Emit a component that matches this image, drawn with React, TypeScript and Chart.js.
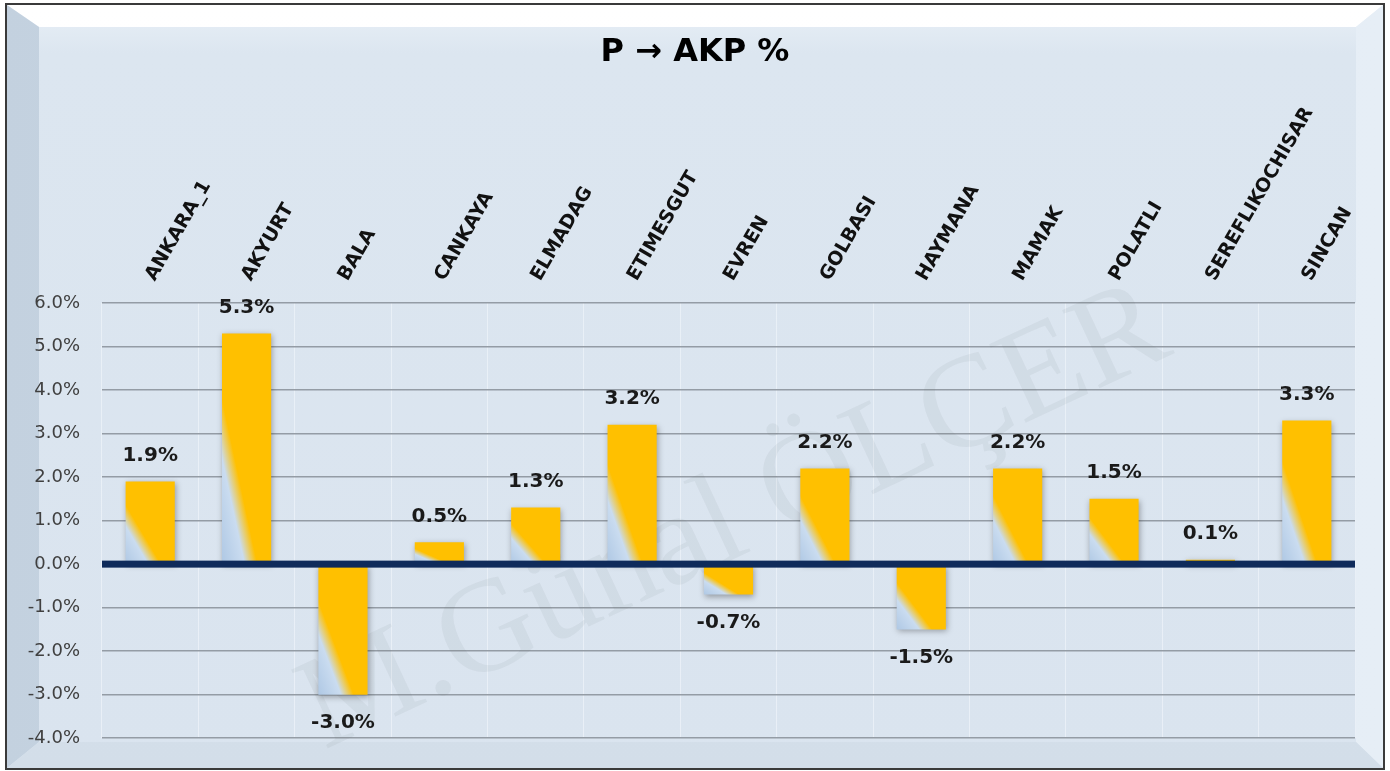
import React, { useEffect, useRef } from 'react';
import { Chart, registerables } from 'chart.js';

Chart.register(...registerables);

const TITLE = 'P → AKP %';
const WATERMARK = 'M.Günal ÖLÇER';
const categories = ['ANKARA_1', 'AKYURT', 'BALA', 'CANKAYA', 'ELMADAG', 'ETIMESGUT', 'EVREN', 'GOLBASI', 'HAYMANA', 'MAMAK', 'POLATLI', 'SEREFLIKOCHISAR', 'SINCAN'];
const values = [1.9, 5.3, -3.0, 0.5, 1.3, 3.2, -0.7, 2.2, -1.5, 2.2, 1.5, 0.1, 3.3];
const yMin = -4;
const yMax = 6;
const yStep = 1;

const BAR_PCT = 0.51;

function barGradient(c: any) {
  const chart = c.chart;
  const area = chart.chartArea;
  if (!area || c.type !== 'data') return '#ffc000';
  const xs = chart.scales.x;
  const ys = chart.scales.y;
  const v = values[c.dataIndex];
  const cx = xs.getPixelForValue(c.dataIndex);
  const w = (xs.width / categories.length) * BAR_PCT;
  const p1 = ys.getPixelForValue(v);
  const p0 = ys.getPixelForValue(0);
  const yb = Math.max(p0, p1);
  const yt = Math.min(p0, p1);
  const h = Math.max(yb - yt, 1);
  const x0 = cx - w / 2;
  const k = (2 * w * h) / (h * h + w * w);
  const g = chart.ctx.createLinearGradient(x0, yb, x0 + h * k, yb - w * k);
  g.addColorStop(0, '#afc8e4');
  g.addColorStop(0.23, '#cadcf0');
  g.addColorStop(0.36, '#ffc000');
  g.addColorStop(1, '#ffc000');
  return g;
}

const decorPlugin = {
  id: 'decor',
  beforeDatasetsDraw(chart: any) {
    const { ctx } = chart;
    ctx.save();
    ctx.translate(735, 520);
    ctx.rotate((-25 * Math.PI) / 180);
    ctx.font = '132px "Liberation Serif"';
    ctx.fillStyle = 'rgba(100,105,110,0.075)';
    ctx.textAlign = 'center';
    ctx.textBaseline = 'middle';
    ctx.fillText(WATERMARK, 0, 0);
    ctx.restore();
    ctx.save();
    ctx.shadowColor = 'rgba(0,0,0,0.32)';
    ctx.shadowBlur = 6;
    ctx.shadowOffsetX = 1;
    ctx.shadowOffsetY = 2;
  },
  afterDatasetsDraw(chart: any) {
    const { ctx, chartArea, scales } = chart;
    ctx.restore();
    const y0 = scales.y.getPixelForValue(0);
    ctx.save();
    ctx.fillStyle = '#0f2b5b';
    ctx.fillRect(chartArea.left, y0 - 3.5, chartArea.right - chartArea.left, 7);
    const meta = chart.getDatasetMeta(0);
    ctx.font = 'bold 20px "DejaVu Sans"';
    ctx.fillStyle = '#1a1a1a';
    ctx.textAlign = 'center';
    ctx.textBaseline = 'middle';
    meta.data.forEach((el: any, i: number) => {
      const v = values[i];
      const y = v >= 0 ? el.y - 26 : el.y + 28;
      ctx.fillText(v.toFixed(1) + '%', el.x, y);
    });
    ctx.font = 'bold 32px "DejaVu Sans"';
    ctx.fillStyle = '#000';
    ctx.fillText(TITLE, 695, 53);
    ctx.restore();
  },
};

export default function App() {
  const ref = useRef<HTMLCanvasElement | null>(null);

  useEffect(() => {
    if (!ref.current) return;
    const chart = new Chart(ref.current, {
      type: 'bar',
      data: {
        labels: categories,
        datasets: [
          {
            data: values,
            backgroundColor: barGradient as any,
            borderWidth: 0,
            categoryPercentage: 1,
            barPercentage: BAR_PCT,
          },
        ],
      },
      options: {
        responsive: false,
        animation: false,
        layout: { padding: { left: 0, right: 35, top: 81, bottom: 32 } },
        plugins: {
          legend: { display: false },
          tooltip: { enabled: false },
          title: { display: false },
        },
        scales: {
          x: {
            position: 'top',
            offset: true,
            grid: { color: 'rgba(238,243,249,0.75)', lineWidth: 1, drawTicks: false, offset: true },
            border: { display: false },
            ticks: {
              autoSkip: false,
              minRotation: 60,
              maxRotation: 60,
              labelOffset: 20,
              padding: 18,
              color: '#111',
              font: { family: 'DejaVu Sans', size: 19, weight: 'bold' },
            },
            afterFit: (s: any) => {
              s.height = 303 - 81;
            },
          },
          y: {
            min: yMin,
            max: yMax,
            ticks: {
              stepSize: yStep,
              padding: 22,
              color: '#404040',
              font: { family: 'DejaVu Sans', size: 18 },
              callback: (v: any) => Number(v).toFixed(1) + '%',
            },
            grid: {
              color: (c: any) => (c.tick && c.tick.value === 0 ? 'rgba(0,0,0,0)' : '#949ca5'),
              lineWidth: 1.5,
              drawTicks: false,
            },
            border: { display: false },
            afterFit: (s: any) => {
              s.width = 102;
            },
          },
        },
      } as any,
      plugins: [decorPlugin],
    });
    return () => chart.destroy();
  }, []);

  const W = 1376;
  const H = 763;
  const T = 22;
  const L = 32;
  const R = 27;
  const B = 26;

  const band = (clip: string, bg: string) => (
    <div style={{ position: 'absolute', left: 0, top: 0, width: W, height: H, clipPath: clip, background: bg }} />
  );

  return (
    <div style={{ position: 'absolute', left: 0, top: 0, width: 1390, height: 771, overflow: 'hidden', background: '#fff' }}>
      <div
        style={{
          position: 'absolute',
          left: 5,
          top: 3,
          width: 1380,
          height: 767,
          boxSizing: 'border-box',
          border: '2px solid #3a3a3a',
          background: 'linear-gradient(180deg, #e9f0f7 0px, #dce6f0 48px, #dae4ef 100%)',
        }}
      >
        {band(`polygon(0 0, ${W}px 0, ${W - R}px ${T}px, ${L}px ${T}px)`, 'linear-gradient(180deg, #ffffff 0%, #fbfcfe 60%, #eef4f9 100%)')}
        {band(`polygon(0 0, ${L}px ${T}px, ${L}px ${H - B}px, 0 ${H}px)`, 'linear-gradient(90deg, #c3d1df 0%, #cfdbe7 45%, #d9e3ee 100%)')}
        {band(`polygon(${W}px 0, ${W}px ${H}px, ${W - R}px ${H - B}px, ${W - R}px ${T}px)`, 'linear-gradient(270deg, #e6eef6 0%, #dfe8f2 100%)')}
        {band(`polygon(0 ${H}px, ${W}px ${H}px, ${W - R}px ${H - B}px, ${L}px ${H - B}px)`, 'linear-gradient(0deg, #d3dee9 0%, #d8e3ed 100%)')}
      </div>
      <canvas ref={ref} width={1390} height={771} style={{ position: 'absolute', left: 0, top: 0, width: 1390, height: 771 }} />
    </div>
  );
}
